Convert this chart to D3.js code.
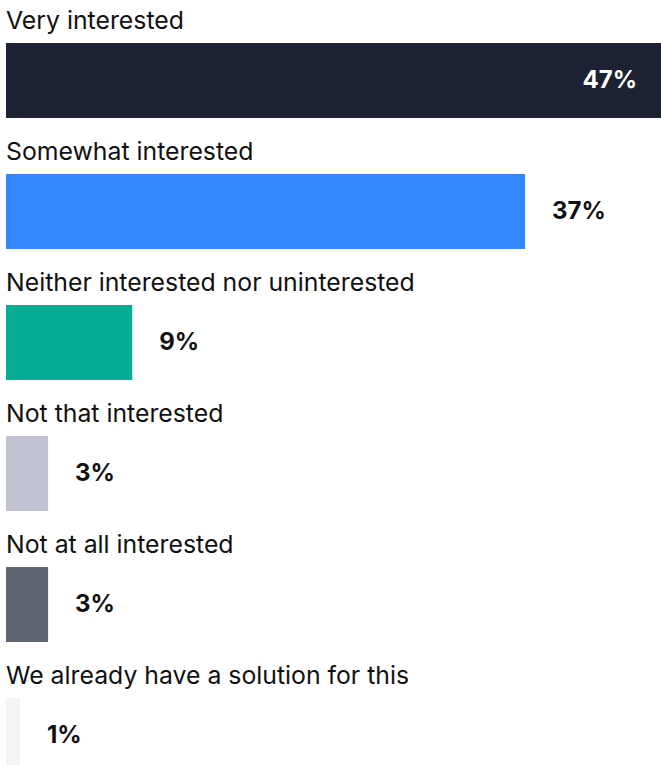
<!DOCTYPE html>
<html lang="en">
<head>
  <meta charset="UTF-8" />
  <title>Interest</title>
  <script src="https://d3js.org/d3.v7.min.js"></script>
  <style>
    body {
      margin: 0;
      overflow: hidden;
      background: #fff;
    }
    .cat {
      font-family: Inter, "Liberation Sans", Arial, sans-serif;
      font-size: 24.8px;
      fill: #111;
    }
    .val {
      font-family: Inter, "Liberation Sans", Arial, sans-serif;
      font-size: 24px;
      font-weight: bold;
    }
  </style>
</head>
<body>
<svg width="661" height="765"></svg>
<script>
const categories = [
  "Very interested",
  "Somewhat interested",
  "Neither interested nor uninterested",
  "Not that interested",
  "Not at all interested",
  "We already have a solution for this"
];
const values = [47, 37, 9, 3, 3, 1];
const colors = ["#1c2233", "#3388ff", "#05ad94", "#c0c2d1", "#5f6670", "#f4f4f4"];

const width = 661, height = 765;
const svg = d3.select("svg");

const x = d3.scaleLinear().domain([0, 100]).range([6, 1409]);
// step 131px, bar 75px, first bar top at 43
const y = d3.scaleBand()
  .domain(categories)
  .range([15, 801])
  .paddingInner(56 / 131)
  .paddingOuter(28 / 131);

const rows = svg.selectAll(".row")
  .data(categories)
  .enter()
  .append("g")
  .attr("class", "row");

rows.append("text")
  .attr("class", "cat")
  .attr("x", 6)
  .attr("y", d => y(d) - 14)
  .text(d => d);

rows.append("rect")
  .attr("x", x(0))
  .attr("y", d => y(d))
  .attr("width", (d, i) => x(values[i]) - x(0))
  .attr("height", y.bandwidth())
  .attr("fill", (d, i) => colors[i]);

rows.append("text")
  .attr("class", "val")
  .attr("x", (d, i) => i === 0 ? width - 24 : x(values[i]) + 27)
  .attr("y", d => y(d) + y.bandwidth() / 2)
  .attr("dy", "0.3em")
  .attr("text-anchor", (d, i) => i === 0 ? "end" : "start")
  .attr("fill", (d, i) => i === 0 ? "#fff" : "#111")
  .text((d, i) => values[i] + "%");
</script>
</body>
</html>
